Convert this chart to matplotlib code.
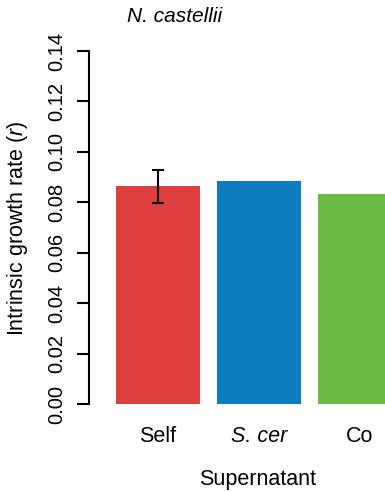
import matplotlib
matplotlib.use("Agg")
import matplotlib.pyplot as plt

plt.rcParams['font.family'] = ['Liberation Sans', 'DejaVu Sans']
plt.rcParams['mathtext.fontset'] = 'custom'
plt.rcParams['mathtext.it'] = 'Liberation Sans:italic'
plt.rcParams['mathtext.rm'] = 'Liberation Sans'

# data
groups = ['Self', 'S. cer', 'Co']
rates = [0.0863, 0.0883, 0.0832]
err = [0.0065, 0, 0]
colors = ['#DF403E', '#0E7DBF', '#6BBB45']
yticks = [0.00, 0.02, 0.04, 0.06, 0.08, 0.10, 0.12, 0.14]

W, H = 385, 492
fig = plt.figure(figsize=(W / 100, H / 100), dpi=100)
ax = fig.add_axes([89 / W, (H - 404) / H, (W - 89) / W, 353 / H])

xpos = [i * 1.2 for i in range(len(groups))]
ax.bar(xpos, rates, width=1.0, color=colors)
ax.errorbar(xpos[0], rates[0], yerr=err[0], fmt='none', ecolor='black',
            elinewidth=1.5, capsize=4.5, capthick=1.5)

ax.set_xlim(-0.821, 2.702)
ax.set_ylim(0, 0.14)
for s in ['top', 'right', 'bottom']:
    ax.spines[s].set_visible(False)
ax.spines['left'].set_linewidth(1.5)
ax.spines['left'].set_bounds(0, 0.14)

ax.set_yticks(yticks)
ax.set_yticklabels([f'{v:.2f}' for v in yticks], rotation=90, va='center',
                   fontsize=14.5)
ax.tick_params(axis='y', length=8.5, width=1.5, pad=8)

ax.set_xticks(xpos)
ax.set_xticklabels(groups, fontsize=15.5)
ax.tick_params(axis='x', length=0, pad=16)
ax.get_xticklabels()[1].set_fontstyle('italic')

fig.text(175 / W, 1 - 17 / H, 'N. castellii', fontsize=15, style='italic',
         ha='center', va='center')
fig.text(18 / W, 1 - 228 / H, r'Intrinsic growth rate ($\mathit{r}$)',
         fontsize=15.5, rotation=90, ha='center', va='center')
fig.text(258 / W, 1 - 479 / H, 'Supernatant', fontsize=15.5,
         ha='center', va='center')

fig.savefig('out.png', dpi=100)
